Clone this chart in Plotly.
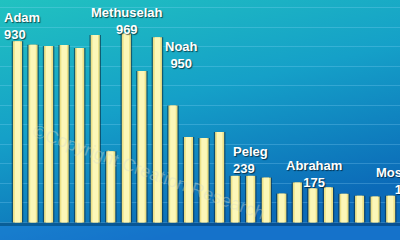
import base64
import plotly.graph_objects as go

names = ["Adam", "Seth", "Enosh", "Kenan", "Mahalalel", "Jared", "Enoch", "Methuselah",
         "Lamech", "Noah", "Shem", "Arphaxad", "Salah", "Eber", "Peleg", "Reu", "Serug",
         "Nahor", "Terah", "Abraham", "Isaac", "Jacob", "Levi", "Kohath", "Amram", "Moses"]
years = [930, 912, 905, 910, 895, 962, 365, 969, 777, 950, 600, 438, 433, 464, 239, 239,
         230, 148, 205, 175, 180, 147, 137, 133, 137, 120]
labelled = ["Adam", "Methuselah", "Noah", "Peleg", "Abraham", "Moses"]
watermark = "©Copyright Creation Research"

xs = list(range(len(names)))
X_MAX = 24.6
PX_PER_CAT = 400 / (X_MAX + 1.125)

svg = """<svg xmlns='http://www.w3.org/2000/svg' width='400' height='240' preserveAspectRatio='none'>
<defs><linearGradient id='g' x1='0' y1='0' x2='0.4' y2='1'>
<stop offset='0' stop-color='#21c2c0'/>
<stop offset='0.5' stop-color='#15a0c8'/>
<stop offset='1' stop-color='#0b6ab8'/>
</linearGradient></defs>
<rect width='400' height='240' fill='url(#g)'/></svg>"""
bg_src = "data:image/svg+xml;base64," + base64.b64encode(svg.encode()).decode()

fig = go.Figure()
# shadow
fig.add_trace(go.Bar(x=xs, y=years, width=0.74, marker=dict(color="rgba(10,40,60,0.6)", line_width=0),
                     hoverinfo="skip"))
# body
fig.add_trace(go.Bar(x=xs, y=years, width=0.58, marker=dict(color="#ebe088", line_width=0),
                     hoverinfo="skip"))
# highlight
fig.add_trace(go.Bar(x=xs, y=years, width=0.36, marker=dict(color="#fcf7b8", line_width=0),
                     hoverinfo="skip"))

lab_font = dict(family="Liberation Sans, Arial", size=13, color="white",
                weight="bold", shadow="1px 1px 1px rgba(0,0,0,0.6)")
# per-label placement: (xanchor, align, xshift, yanchor, yshift)
place = {
    "Adam": ("left", "left", -14.5, "bottom", -2),
    "Methuselah": ("center", "center", 1, "bottom", -4),
    "Noah": ("center", "center", 24.5, "top", -1),
    "Peleg": ("left", "left", -3.5, "bottom", -1),
    "Abraham": ("center", "center", 1, "bottom", -3),
    "Moses": ("right", "right", 10.5, "bottom", 1),
}
for nm in labelled:
    i = names.index(nm)
    xa, al, xsh, ya, ysh = place[nm]
    ax = min(xs[i], X_MAX - 0.1)
    xsh += (xs[i] - ax) * PX_PER_CAT
    fig.add_annotation(x=ax, y=years[i], text=f"{nm}<br>{years[i]}", showarrow=False,
                       xanchor=xa, yanchor=ya, align=al, xshift=xsh, yshift=ysh,
                       font=lab_font, borderpad=0)

fig.add_annotation(x=8.4, y=260, text=watermark, showarrow=False, textangle=20,
                   font=dict(family="Liberation Sans, Arial", size=18,
                             color="rgba(215,220,200,0.38)"))

# floor
fig.add_shape(type="rect", xref="paper", x0=0, x1=1, y0=-18, y1=0,
              fillcolor="rgba(0,35,80,0.35)", line_width=0, layer="below")
fig.add_shape(type="rect", xref="paper", x0=0, x1=1, y0=-90, y1=-18,
              fillcolor="rgba(40,130,235,0.35)", line_width=0, layer="below")

fig.update_layout(
    width=400, height=240, margin=dict(l=0, r=0, t=0, b=0),
    barmode="overlay", showlegend=False,
    paper_bgcolor="#1596c8", plot_bgcolor="rgba(0,0,0,0)",
    images=[dict(source=bg_src, xref="paper", yref="paper", x=0, y=1, sizex=1, sizey=1,
                 sizing="stretch", xanchor="left", yanchor="top", layer="below")],
    xaxis=dict(range=[-1.125, X_MAX], visible=False, showgrid=False, zeroline=False),
    yaxis=dict(range=[-90, 1141], showgrid=True, gridcolor="rgba(150,220,255,0.25)",
               gridwidth=1, dtick=100, tick0=0, zeroline=False, showticklabels=False,
               ticks=""),
)

fig.write_html("out.html")
